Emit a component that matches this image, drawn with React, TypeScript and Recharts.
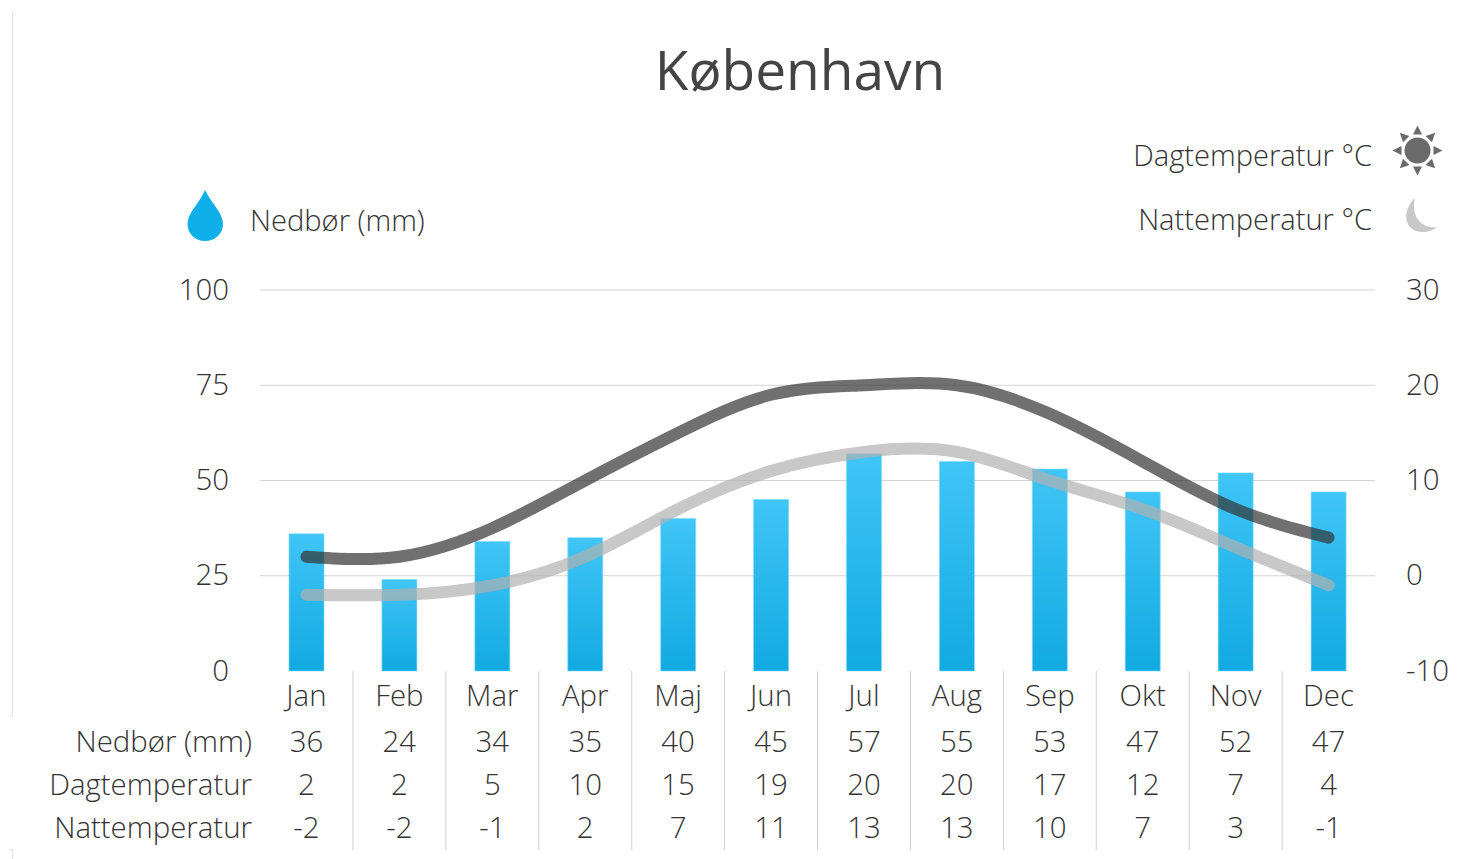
import React from "react";
import { ComposedChart, Bar, Line, XAxis, YAxis, CartesianGrid } from "recharts";

const months = ["Jan", "Feb", "Mar", "Apr", "Maj", "Jun", "Jul", "Aug", "Sep", "Okt", "Nov", "Dec"];
const rainfall = [36, 24, 34, 35, 40, 45, 57, 55, 53, 47, 52, 47];
const dayTemps = [2, 2, 5, 10, 15, 19, 20, 20, 17, 12, 7, 4];
const nightTemps = [-2, -2, -1, 2, 7, 11, 13, 13, 10, 7, 3, -1];
const leftTicks = [0, 25, 50, 75, 100];
const rightTicks = [-10, 0, 10, 20, 30];
const rowLabels = ["Nedbør (mm)", "Dagtemperatur", "Nattemperatur"];

const data = months.map((month, i) => ({
  month,
  rain: rainfall[i],
  day: dayTemps[i],
  night: nightTemps[i],
}));

const FONT = "'Open Sans', sans-serif";
const TEXT = "#333333";
const SIZE = 29.4;

function MonthTick(props: any) {
  const { x, y, index } = props;
  const i = index as number;
  return (
    <g fontFamily={FONT} fontWeight={300} fontSize={SIZE} fill={TEXT} textAnchor="middle">
      <text x={x} y={y + 34.5}>{months[i]}</text>
      <text x={x} y={y + 80.5}>{rainfall[i]}</text>
      <text x={x} y={y + 123.5}>{dayTemps[i]}</text>
      <text x={x} y={y + 166.5}>{nightTemps[i]}</text>
      {i < months.length - 1 && (
        <line x1={x + 46.5} x2={x + 46.5} y1={y} y2={y + 179} stroke="#d0d0d0" strokeWidth={1} />
      )}
    </g>
  );
}

function ValueTick(props: any) {
  const { x, y, payload, textAnchor } = props;
  return (
    <text x={x} y={y + 9.5} textAnchor={textAnchor} fontFamily={FONT} fontWeight={300} fontSize={SIZE} fill={TEXT}>
      {payload.value}
    </text>
  );
}

function Overlay() {
  const rays = [0, 45, 90, 135, 180, 225, 270, 315];
  return (
    <svg width={1462} height={859} style={{ position: "absolute", left: 0, top: 0, pointerEvents: "none" }}>
      <path d="M12.5 12V716H9" fill="none" stroke="#e2e2e2" />
      <path d="M9 849.5H12.5V859" fill="none" stroke="#e2e2e2" />
      <text x={800} y={90} textAnchor="middle" fontFamily={FONT} fontWeight={400} fontSize={55} fill="#444444">København</text>
      <g fontFamily={FONT} fontWeight={300} fontSize={29.1} fill={TEXT}>
        <text x={1372} y={165.5} textAnchor="end">Dagtemperatur °C</text>
        <text x={1372} y={229.5} textAnchor="end">Nattemperatur °C</text>
        <text x={250} y={230.5}>Nedbør (mm)</text>
      </g>
      <g fontFamily={FONT} fontWeight={300} fontSize={SIZE} fill={TEXT} textAnchor="end">
        {rowLabels.map((label, i) => (
          <text key={label} x={252} y={751.5 + [0, 43, 86][i]}>{label}</text>
        ))}
      </g>
      <g fill="#6b6b6b">
        <circle cx={1417.5} cy={150.5} r={13} />
        {rays.map((a) => (
          <path key={a} d="M1413 134.5L1417.5 125.5L1422 134.5Z" transform={`rotate(${a} 1417.5 150.5)`} />
        ))}
      </g>
      <path d="M1415 198C1401 211 1404 232 1423 232C1428 232 1434 230 1437 227C1424 229 1410 219 1415 198Z" fill="#c8c8c8" />
      <path d="M205 190C199 204 187.5 213 187.5 224C187.5 234 195.5 241 205 241C215 241 223 234 223 224C223 213 212 204 205 190Z" fill="#0fb0ea" />
    </svg>
  );
}

export default function App() {
  return (
    <div style={{ position: "absolute", left: 0, top: 0, width: 1462, height: 859, overflow: "hidden", background: "#fff" }}>
      <ComposedChart width={1462} height={859} data={data} margin={{ top: 290, right: 0, bottom: 0, left: 0 }} barCategoryGap={29}>
        <defs>
          <linearGradient id="rainFill" x1="0" y1="0" x2="0" y2="1">
            <stop offset="0%" stopColor="#3cc4f6" />
            <stop offset="100%" stopColor="#0da8e1" />
          </linearGradient>
        </defs>
        <CartesianGrid yAxisId="left" vertical={false} stroke="#d4d4d4" horizontalValues={[25, 50, 75, 100]} />
        <XAxis dataKey="month" height={188} interval={0} axisLine={false} tickLine={false} tickSize={0} tickMargin={0} tick={<MonthTick />} />
        <YAxis yAxisId="left" orientation="left" width={260} domain={[0, 100]} ticks={leftTicks} axisLine={false} tickLine={false} tickSize={0} tickMargin={31}
          tick={<ValueTick />} />
        <YAxis yAxisId="right" orientation="right" width={87} domain={[-10, 30]} ticks={rightTicks} axisLine={false} tickLine={false} tickSize={0} tickMargin={31}
          tick={<ValueTick />} />
        <Bar yAxisId="left" dataKey="rain" fill="url(#rainFill)" fillOpacity={0.98} stroke="#7adcfb" strokeOpacity={0.6} strokeWidth={1} barSize={35} isAnimationActive={false} />
        <Line yAxisId="right" dataKey="night" type="natural" stroke="#b0b0b0" strokeOpacity={0.7} strokeWidth={12} strokeLinecap="round" dot={false} isAnimationActive={false} />
        <Line yAxisId="right" dataKey="day" type="natural" stroke="#333333" strokeOpacity={0.7} strokeWidth={12} strokeLinecap="round" dot={false} isAnimationActive={false} />
      </ComposedChart>
      <Overlay />
    </div>
  );
}
